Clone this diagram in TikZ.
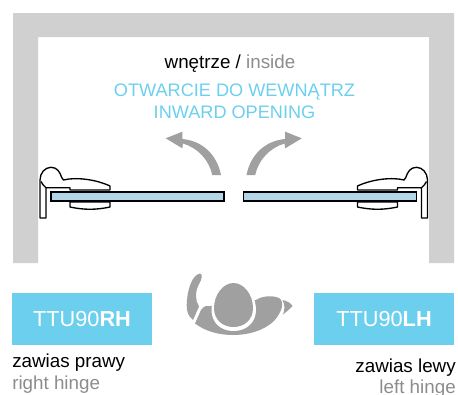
\documentclass[tikz,border=0pt]{standalone}
\usepackage{fontspec}
\setmainfont{Liberation Sans}
\definecolor{wallgray}{RGB}{208,208,208}
\definecolor{arrowgray}{RGB}{160,160,160}
\definecolor{textgray}{RGB}{140,140,140}
\definecolor{titleblue}{RGB}{108,207,238}
\definecolor{glassblue}{RGB}{176,214,232}
\tikzset{
    wall/.style={fill=wallgray,draw=none},
    glass/.style={fill=glassblue,draw=black,line width=0.8pt},
    hinge/.style={fill=white,draw=black,line width=1pt,line join=round},
    swing/.style={fill=arrowgray,draw=none},
    person/.style={fill=arrowgray,draw=none},
    badge/.style={fill=titleblue,text=white,minimum width=105pt,minimum height=39pt,inner sep=0pt,font=\fontsize{16.3}{18}\selectfont},
    caption/.style={inner sep=0pt,font=\fontsize{14.1}{16}\selectfont},
    title/.style={inner sep=0pt,text=titleblue,font=\fontsize{13.6}{17}\selectfont}
}
% one door leaf: hinge, glass, swing arrow (drawn for the left side)
\newcommand{\doorleaf}{
    \draw[hinge] (46,218) -- (40,218) -- (40,180) .. controls (40,173) and (45,167.3) .. (51,167.3)
        .. controls (57,167.3) and (60,172) .. (61.7,177.5) -- (63.5,180) .. controls (75,177) and (95,179) .. (110,186)
        -- (110,190) -- (70,190) -- (70,187.7) -- (46,187.7) -- cycle;
    \draw[hinge,fill=none] (41,181.5) .. controls (42,184) and (44,186) .. (46,187.7);
    \draw[hinge] (70,202) -- (110,202) -- (110,207) .. controls (96,210) and (84,210) .. (70,207) -- cycle;
    \draw[glass] (51,192) rectangle (224,201);
    \fill[swing] (221,175) -- (212.3,175) .. controls (209,160) and (198,148) .. (183,143.5)
        -- (182.3,148.3) -- (165.7,138.3) -- (182.3,131.7) -- (182.5,139)
        .. controls (203,141) and (217,155) .. (221,175) -- cycle;
}
\begin{document}
\begin{tikzpicture}[x=0.75pt,y=-0.75pt]
    \useasboundingbox (0,0) rectangle (458,394);
    % walls
    \fill[wall] (13,263) -- (13,13) -- (454,13) -- (454,263) -- (429,263) -- (429,37) -- (38,37) -- (38,263) -- cycle;
    % doors
    \doorleaf
    \begin{scope}[xshift=350.625pt,xscale=-1]
        \doorleaf
    \end{scope}
    % person seen from above
    \fill[person] (186.7,305) .. controls (187,290) and (192,275) .. (200,273.5) .. controls (203,274) and (202,279) .. (199,284)
        .. controls (195,292) and (195,300) .. (199,306.5) -- (193,320) .. controls (188,316) and (186.5,311) .. (186.7,305) -- cycle;
    \fill[person] (195,323.5) -- (201,310) .. controls (204,306) and (207,305) .. (210,306) -- (256,300)
        .. controls (262,296) and (272,295) .. (279,298) .. controls (285,302) and (282,312) .. (274,321)
        .. controls (262,332) and (246,335) .. (233,335) .. controls (218,335) and (205,331) .. (195,323.5) -- cycle;
    \fill[white] (233.5,284) .. controls (248,284) and (256,297) .. (256,310) .. controls (256,322) and (247,331) .. (233.5,331)
        .. controls (220,331) and (211.5,322) .. (211.5,310) .. controls (211.5,297) and (219,284) .. (233.5,284) -- cycle;
    \fill[person] (233.5,283) .. controls (244,283) and (253,295) .. (253,308) .. controls (253,320) and (244,327) .. (233.5,327)
        .. controls (223,327) and (214,320) .. (214,308) .. controls (214,295) and (223,283) .. (233.5,283) -- cycle;
    \fill[person] (282.5,300) .. controls (287,301) and (291,303) .. (292.5,306) .. controls (290,309) and (286,312) .. (283,314.5)
        .. controls (285,309) and (285,305) .. (282.5,300) -- cycle;
    % labels
    \node[caption,anchor=base] (inside) at (230,68) {wnętrze / \textcolor{textgray}{inside}};
    \node[title,anchor=base] (opening pl) at (234.5,96) {OTWARCIE DO WEWNĄTRZ};
    \node[title,anchor=base] (opening en) at (234.5,118) {INWARD OPENING};
    \node[badge] (rh) at (82,319) {TTU90\textbf{RH}};
    \node[badge] (lh) at (384,319) {TTU90\textbf{LH}};
    \node[caption,anchor=base west] (hinge pl r) at (12,367) {zawias prawy};
    \node[caption,anchor=base west,text=textgray] (hinge en r) at (12,389) {right hinge};
    \node[caption,anchor=base east] (hinge pl l) at (456,372.5) {zawias lewy};
    \node[caption,anchor=base east,text=textgray] (hinge en l) at (456,393.5) {left hinge};
\end{tikzpicture}
\end{document}
